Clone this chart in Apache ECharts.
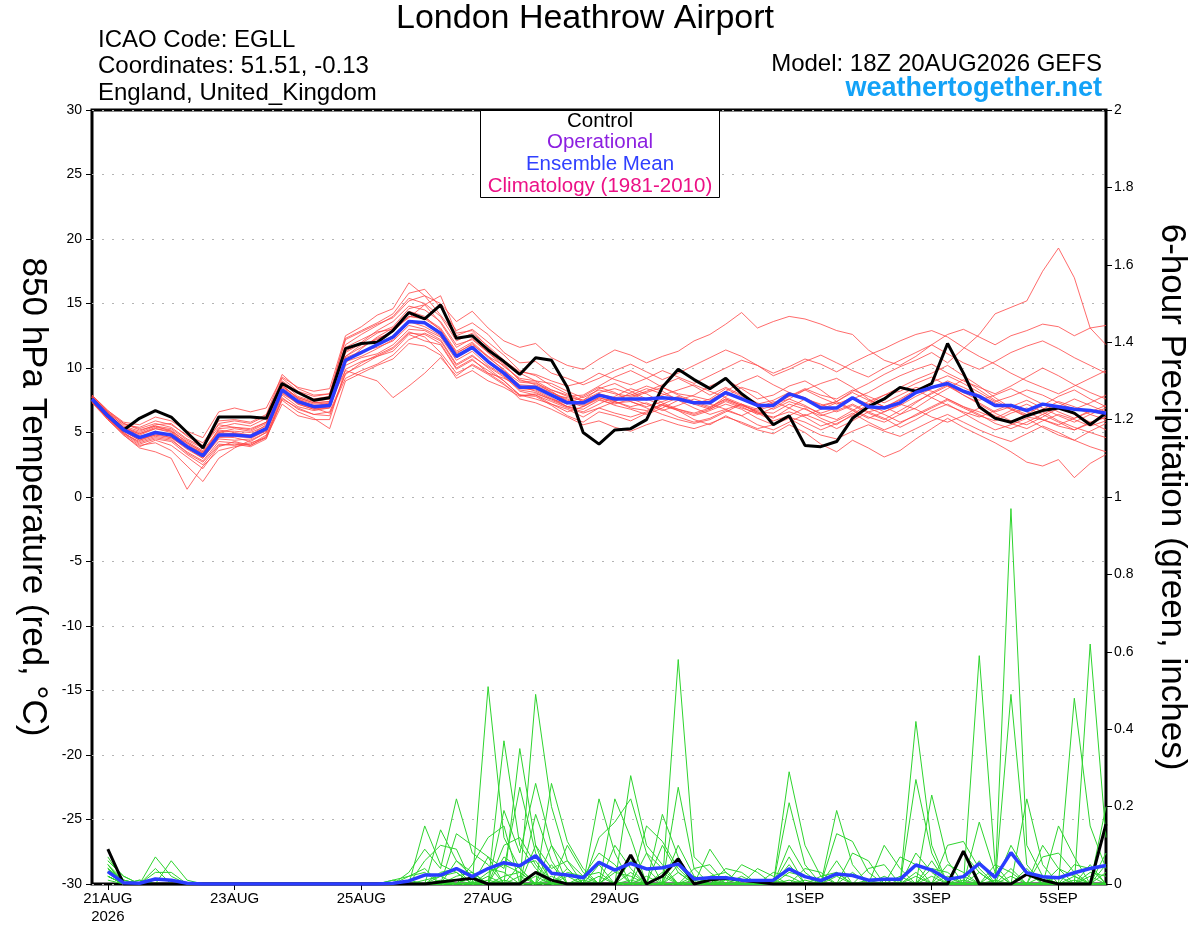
<!DOCTYPE html>
<html>
<head>
<meta charset="utf-8">
<title>London Heathrow Airport</title>
<script src="https://cdn.jsdelivr.net/npm/echarts@6/dist/echarts.min.js"></script>
<style>
  html, body { margin: 0; padding: 0; background: #fff; }
  #chart { width: 1200px; height: 927px; }
</style>
</head>
<body>
<div id="chart"></div>
<script>
// 6-hourly steps from the 18Z 20AUG2026 GEFS run
const runStart = Date.UTC(2026, 7, 20, 18);
const stepCount = 65;
const monthNames = ['JAN', 'FEB', 'MAR', 'APR', 'MAY', 'JUN', 'JUL', 'AUG', 'SEP', 'OCT', 'NOV', 'DEC'];
const tickDays = ['21AUG', '23AUG', '25AUG', '27AUG', '29AUG', '1SEP', '3SEP', '5SEP'];
const firstTickYear = '2026';

const times = [];
for (let k = 0; k < stepCount; k++) {
    const d = new Date(runStart + k * 6 * 3600 * 1000);
    const hh = String(d.getUTCHours()).padStart(2, '0');
    times.push(d.getUTCDate() + monthNames[d.getUTCMonth()] + ' ' + hh + 'Z');
}

// 850 hPa temperature (C)
const ctlTemp = [
    7.6, 6.3, 5.2, 6.1, 6.7, 6.2, 5.0, 3.8, 6.2, 6.2, 6.2, 6.1, 8.8,
    8.1, 7.5, 7.7, 11.5, 11.9, 12.0, 12.9, 14.3, 13.8, 14.9, 12.3, 12.5, 11.4,
    10.5, 9.5, 10.8, 10.6, 8.5, 5.0, 4.1, 5.2, 5.3, 6.0, 8.5, 9.9, 9.1,
    8.4, 9.2, 8.0, 7.1, 5.6, 6.3, 4.0, 3.9, 4.3, 6.1, 7.0, 7.6, 8.5,
    8.2, 8.8, 11.9, 9.6, 7.0, 6.1, 5.8, 6.3, 6.7, 6.9, 6.5, 5.6, 6.5
];
const meanTemp = [
    7.6, 6.3, 5.2, 4.6, 5.0, 4.8, 3.9, 3.2, 4.8, 4.8, 4.7, 5.3, 8.3,
    7.4, 7.0, 7.1, 10.6, 11.2, 11.8, 12.4, 13.6, 13.5, 12.7, 10.9, 11.6, 10.5,
    9.6, 8.5, 8.5, 7.9, 7.3, 7.3, 7.9, 7.6, 7.6, 7.6, 7.7, 7.6, 7.3,
    7.3, 8.1, 7.6, 7.1, 7.1, 8.0, 7.6, 6.9, 6.9, 7.7, 7.0, 6.9, 7.3,
    8.1, 8.5, 8.8, 8.2, 7.8, 7.1, 7.1, 6.7, 7.2, 7.0, 6.8, 6.7, 6.5
];
const tempMembers = [
    [7.8, 6.5, 5.6, 5.4, 5.9, 5.6, 4.8, 4.2, 5.9, 6.0, 5.8, 6.4, 9.5,
     8.4, 7.9, 8.0, 12.2, 12.8, 13.4, 13.9, 15.2, 15.6, 14.1, 12.5, 13.0, 12.0,
     11.0, 9.8, 9.4, 8.6, 8.0, 7.5, 8.4, 8.8, 8.2, 7.6, 7.1, 6.8, 6.5,
     6.9, 7.8, 8.5, 8.1, 7.2, 7.6, 8.3, 8.8, 9.2, 8.5, 7.6, 7.0, 6.4,
     6.9, 7.7, 8.4, 9.1, 8.3, 7.5, 6.8, 6.2, 6.0, 5.5, 5.2, 5.8, 6.2],
    [7.4, 6.0, 4.8, 3.8, 3.5, 3.0, 0.6, 2.4, 3.6, 3.9, 4.1, 4.8, 7.6,
     6.9, 6.4, 6.6, 9.5, 10.4, 11.0, 11.6, 12.8, 12.4, 11.2, 9.6, 10.2, 9.5,
     8.7, 7.9, 7.6, 7.2, 6.8, 6.2, 6.9, 7.4, 8.1, 8.6, 8.2, 7.5, 6.9,
     6.4, 6.8, 7.2, 6.5, 5.9, 6.3, 6.9, 6.1, 5.6, 6.4, 7.2, 7.9, 8.5,
     9.1, 9.6, 10.2, 9.4, 8.6, 7.7, 6.9, 6.4, 7.1, 7.8, 8.3, 7.6, 7.0],
    [7.7, 6.4, 5.3, 4.9, 5.3, 5.0, 4.1, 3.4, 5.0, 5.3, 5.1, 5.7, 8.6,
     7.7, 7.3, 7.4, 11.2, 11.9, 12.7, 13.2, 14.6, 14.9, 13.5, 11.6, 12.3, 11.2,
     10.1, 9.2, 9.0, 8.3, 7.8, 7.9, 8.6, 9.3, 9.8, 9.2, 8.5, 8.0, 7.8,
     7.5, 8.2, 8.9, 9.4, 8.7, 8.1, 7.6, 7.0, 7.4, 8.2, 8.8, 9.5, 10.1,
     10.6, 11.2, 10.4, 11.5, 12.6, 14.2, 14.7, 15.2, 17.5, 19.3, 17.0, 13.1, 11.8],
    [7.9, 6.7, 5.8, 5.6, 6.2, 5.9, 5.1, 4.6, 6.6, 6.9, 6.6, 6.9, 9.3,
     8.5, 8.2, 8.4, 12.5, 13.2, 14.1, 14.6, 16.6, 15.6, 15.0, 13.6, 14.4, 13.1,
     12.1, 11.6, 11.9, 10.8, 10.2, 9.9, 10.7, 11.4, 11.0, 10.4, 10.9, 11.3, 12.1,
     12.6, 13.4, 14.3, 13.1, 13.6, 14.0, 13.8, 13.4, 12.9, 12.6, 11.4, 10.6, 10.2,
     10.9, 11.8, 12.6, 13.0, 12.4, 11.8, 12.5, 12.9, 13.4, 13.2, 12.5, 13.1, 13.3],
    [7.5, 6.1, 5.0, 4.2, 4.6, 4.4, 3.5, 2.8, 4.3, 4.2, 4.0, 4.7, 7.9,
     7.0, 6.7, 6.9, 10.2, 10.8, 11.1, 11.8, 13.0, 12.9, 12.2, 10.3, 11.0, 10.0,
     9.0, 7.9, 7.8, 7.1, 6.3, 5.8, 6.6, 6.3, 5.9, 6.5, 7.1, 6.7, 6.0,
     5.6, 6.3, 5.7, 5.2, 4.9, 5.6, 5.0, 4.1, 3.5, 4.4, 3.8, 3.1, 3.6,
     4.5, 5.3, 6.1, 5.4, 4.8, 4.2, 3.5, 2.7, 2.4, 2.9, 1.5, 2.6, 3.3],
    [7.6, 6.2, 5.1, 4.4, 4.8, 4.9, 4.2, 3.5, 4.7, 4.6, 4.3, 5.0, 8.1,
     7.2, 6.8, 6.9, 10.4, 11.5, 12.4, 13.1, 14.4, 14.0, 12.9, 11.2, 11.8, 10.9,
     10.2, 9.1, 8.7, 8.2, 7.4, 7.0, 7.6, 7.1, 6.8, 6.4, 6.9, 7.5, 7.9,
     8.6, 9.1, 8.4, 7.6, 7.9, 8.6, 9.0, 8.3, 7.4, 6.8, 6.2, 5.8, 6.4,
     7.3, 8.1, 8.7, 7.9, 7.2, 6.5, 5.9, 5.6, 6.2, 6.9, 6.4, 5.8, 5.2],
    [7.3, 6.0, 4.9, 4.0, 4.2, 3.6, 2.4, 1.2, 3.0, 3.8, 4.4, 5.0, 8.0,
     7.3, 6.9, 6.5, 9.2, 9.8, 10.3, 11.0, 12.2, 12.7, 12.1, 10.2, 10.9, 10.1,
     9.3, 8.3, 8.1, 7.5, 7.0, 7.3, 8.0, 7.4, 7.0, 7.3, 6.8, 6.2, 5.8,
     6.1, 6.7, 6.3, 5.6, 5.2, 5.8, 6.4, 5.9, 5.3, 5.9, 6.6, 6.1, 5.4,
     6.0, 6.7, 7.2, 6.5, 5.8, 5.2, 5.6, 6.1, 5.4, 4.8, 4.4, 5.1, 5.7],
    [7.4, 6.1, 4.9, 4.3, 4.7, 4.5, 3.4, 2.7, 4.1, 4.0, 4.2, 4.6, 7.5,
     6.6, 6.1, 5.3, 9.0, 9.6, 10.2, 10.7, 11.9, 11.7, 11.0, 9.2, 9.8, 9.0,
     8.5, 7.8, 8.0, 7.6, 7.0, 6.6, 7.2, 7.8, 8.4, 8.0, 7.3, 6.8, 6.4,
     6.8, 7.5, 7.0, 6.4, 6.9, 7.6, 7.1, 6.4, 6.0, 6.7, 7.4, 7.9, 8.2,
     8.8, 9.3, 8.6, 7.9, 7.3, 6.6, 7.0, 7.5, 6.9, 6.3, 5.8, 6.4, 6.9],
    [7.7, 6.4, 5.3, 4.8, 5.3, 5.1, 4.3, 3.6, 5.2, 5.0, 4.8, 5.6, 8.7,
     7.6, 7.0, 7.3, 9.8, 9.4, 9.0, 7.7, 8.6, 9.6, 10.8, 9.4, 10.3, 9.6,
     9.2, 8.6, 8.4, 7.9, 7.7, 7.5, 8.1, 8.4, 8.0, 7.5, 7.9, 8.3, 8.7,
     8.2, 7.7, 7.2, 6.8, 7.3, 7.8, 8.4, 7.9, 7.6, 8.3, 7.8, 7.3, 7.9,
     8.5, 8.2, 7.6, 7.0, 6.4, 5.7, 5.3, 5.8, 6.4, 7.0, 7.6, 7.1, 6.6],
    [7.8, 6.6, 5.5, 5.1, 5.6, 5.7, 4.7, 4.0, 5.6, 5.4, 5.3, 5.8, 8.9,
     7.8, 7.4, 7.6, 11.6, 12.2, 12.8, 13.0, 13.9, 14.9, 15.6, 12.7, 12.9, 11.6,
     10.4, 9.6, 9.0, 8.8, 8.2, 7.7, 8.3, 8.0, 7.8, 8.2, 8.7, 9.2, 8.6,
     7.9, 8.5, 7.9, 7.3, 6.8, 7.4, 7.0, 6.5, 6.9, 7.6, 8.1, 8.8, 9.4,
     9.9, 10.3, 9.6, 9.0, 8.5, 8.0, 8.6, 9.3, 10.0, 9.4, 8.7, 8.1, 7.6],
    [7.5, 6.2, 5.1, 4.4, 4.9, 4.6, 3.7, 3.0, 4.6, 4.7, 4.6, 5.1, 8.2,
     7.3, 6.9, 7.0, 10.8, 11.3, 11.6, 12.1, 13.3, 13.0, 12.4, 10.6, 11.3, 10.2,
     9.4, 8.2, 7.9, 7.4, 6.9, 6.5, 6.9, 6.5, 6.2, 6.6, 7.2, 7.7, 7.2,
     6.8, 7.4, 6.9, 6.5, 6.2, 6.6, 6.2, 5.5, 5.9, 6.5, 5.8, 5.2, 5.7,
     6.4, 7.0, 7.6, 7.0, 6.6, 6.1, 6.7, 7.2, 6.6, 5.9, 5.4, 5.0, 4.6],
    [7.6, 6.3, 5.2, 4.6, 5.1, 4.7, 3.8, 3.1, 4.9, 4.9, 4.8, 5.4, 8.4,
     7.5, 7.1, 7.2, 10.9, 11.6, 12.3, 12.8, 14.0, 13.8, 13.0, 11.1, 11.9, 10.8,
     9.9, 8.6, 8.2, 7.6, 7.2, 7.8, 8.5, 8.1, 7.4, 6.9, 6.4, 6.0, 5.7,
     6.0, 6.6, 7.2, 6.6, 6.1, 6.9, 7.6, 7.2, 6.6, 7.1, 6.5, 6.0, 6.7,
     7.4, 8.0, 8.6, 8.1, 7.5, 7.9, 8.4, 7.8, 7.2, 6.6, 6.1, 6.6, 7.1],
    [7.9, 6.6, 5.7, 5.3, 5.7, 5.4, 4.5, 3.9, 5.4, 5.7, 5.5, 6.1, 9.0,
     8.1, 7.6, 7.8, 11.8, 12.6, 13.3, 14.0, 15.4, 15.0, 14.0, 12.1, 12.7, 11.7,
     10.6, 9.7, 9.5, 9.0, 8.6, 8.9, 9.6, 9.1, 8.7, 9.2, 9.8, 9.3, 8.8,
     9.4, 10.0, 10.6, 10.2, 9.6, 10.1, 10.7, 10.3, 9.7, 10.4, 11.0, 11.5, 12.1,
     12.6, 12.9, 12.4, 11.6, 10.9, 10.3, 9.6, 9.0, 8.5, 8.0, 8.6, 9.2, 9.8],
    [7.5, 6.1, 5.0, 4.1, 4.5, 4.3, 3.3, 2.5, 4.0, 4.1, 3.9, 4.5, 7.7,
     6.8, 6.4, 6.3, 9.6, 10.2, 10.9, 11.5, 12.7, 12.6, 11.9, 10.0, 10.7, 9.6,
     8.8, 7.6, 7.3, 6.8, 6.2, 5.6, 5.9, 5.4, 5.1, 5.6, 6.0, 5.6, 5.3,
     5.7, 6.2, 5.8, 5.3, 5.6, 6.1, 5.4, 4.8, 4.5, 5.1, 5.6, 5.1, 4.7,
     5.3, 5.9, 6.4, 5.8, 5.2, 4.7, 4.3, 4.9, 5.5, 5.0, 4.4, 3.9, 3.5],
    [7.7, 6.4, 5.4, 4.9, 5.4, 5.2, 4.2, 3.5, 5.1, 5.1, 5.0, 5.5, 8.5,
     7.6, 7.2, 7.3, 10.9, 11.8, 12.2, 12.9, 14.0, 13.9, 13.1, 11.3, 12.0, 10.9,
     9.8, 8.9, 8.8, 8.3, 7.9, 7.4, 8.0, 7.7, 7.9, 8.4, 8.0, 7.6, 7.2,
     7.6, 8.4, 7.8, 7.2, 7.5, 8.1, 7.7, 7.1, 7.4, 8.1, 7.5, 7.0, 7.5,
     8.2, 8.9, 9.4, 8.8, 8.1, 7.4, 7.8, 8.3, 7.9, 7.3, 6.8, 7.3, 7.9],
    [7.6, 6.2, 5.2, 4.5, 4.8, 4.6, 3.8, 3.0, 4.5, 4.4, 4.5, 5.2, 8.2,
     7.2, 6.8, 7.0, 10.5, 10.9, 11.5, 12.2, 13.5, 13.6, 12.8, 10.9, 11.6, 10.4,
     9.5, 8.4, 8.3, 7.7, 7.0, 6.8, 7.5, 7.2, 7.6, 7.2, 6.7, 7.1, 7.6,
     7.2, 6.8, 6.3, 6.9, 7.4, 6.9, 6.3, 6.8, 7.3, 6.7, 6.1, 6.6, 7.2,
     6.8, 6.2, 5.8, 6.3, 6.9, 6.3, 5.7, 5.3, 5.9, 6.4, 6.0, 5.5, 5.9],
    [7.8, 6.5, 5.4, 5.0, 5.5, 5.1, 4.0, 3.3, 5.3, 5.4, 5.2, 5.8, 8.6,
     7.7, 7.3, 7.4, 11.3, 12.0, 12.9, 13.6, 14.8, 14.5, 13.6, 11.8, 12.2, 11.2,
     10.3, 9.0, 8.9, 8.1, 7.5, 7.2, 7.9, 7.5, 7.7, 8.1, 8.5, 7.9, 7.4,
     7.0, 7.6, 7.1, 6.7, 7.1, 7.8, 8.3, 7.7, 7.2, 7.7, 7.2, 6.6, 7.1,
     7.8, 8.4, 9.0, 8.5, 7.9, 7.3, 6.8, 6.3, 6.8, 7.4, 7.0, 6.4, 6.0],
    [7.4, 6.0, 4.8, 3.9, 4.4, 4.0, 3.1, 2.2, 3.9, 4.3, 4.0, 4.6, 7.2,
     6.3, 6.0, 6.0, 9.9, 10.5, 10.9, 11.3, 12.6, 12.1, 11.8, 9.9, 10.6, 9.8,
     9.0, 7.9, 7.9, 7.2, 6.6, 7.0, 7.7, 7.4, 6.9, 6.7, 7.2, 6.7, 6.3,
     6.7, 7.2, 6.8, 6.1, 5.6, 6.2, 5.8, 5.2, 5.7, 6.3, 6.9, 6.4, 5.8,
     6.3, 6.9, 7.5, 6.9, 6.3, 5.9, 6.5, 6.9, 6.4, 5.8, 5.2, 5.7, 6.2],
    [7.7, 6.4, 5.3, 4.7, 5.0, 4.8, 4.0, 3.4, 5.0, 4.9, 4.7, 5.3, 8.3,
     7.4, 7.0, 7.1, 10.7, 11.1, 11.9, 12.5, 13.6, 13.2, 12.5, 10.8, 11.5, 10.6,
     9.7, 8.7, 8.6, 8.1, 7.6, 7.1, 7.7, 7.3, 7.4, 7.0, 7.4, 7.8, 7.3,
     6.9, 7.6, 7.1, 6.6, 6.5, 7.2, 6.8, 6.3, 6.7, 7.2, 6.6, 6.9, 7.6,
     8.3, 7.7, 7.1, 6.6, 6.2, 6.7, 7.2, 6.6, 6.0, 5.6, 6.1, 6.7, 6.3],
    [7.9, 6.7, 5.7, 5.2, 5.5, 5.3, 4.4, 3.8, 5.7, 5.9, 5.7, 6.3, 9.2,
     8.2, 7.8, 8.0, 12.3, 12.9, 13.5, 14.2, 15.8, 16.1, 14.7, 12.9, 13.5, 12.6,
     11.2, 10.4, 10.5, 9.6, 9.2, 8.7, 9.2, 9.8, 10.3, 9.7, 9.1, 9.6, 10.2,
     10.8, 11.4, 10.9, 10.2, 9.4, 9.9, 10.5, 11.0, 10.4, 9.8, 9.3, 10.0, 10.6,
     11.2, 11.8, 11.1, 10.4, 9.9, 10.5, 11.2, 11.7, 12.1, 11.5, 10.8, 10.2, 9.6]
];

// 6-hour precipitation (inches), no value at the analysis time
const ctlPrecip = [
    null, 0.09, 0, 0, 0, 0, 0, 0, 0, 0, 0, 0, 0,
    0, 0, 0, 0, 0, 0, 0, 0, 0, 0.005, 0.01, 0.015, 0,
    0, 0, 0.03, 0.01, 0, 0, 0, 0, 0.075, 0, 0.02, 0.065, 0,
    0.01, 0.015, 0.01, 0.005, 0, 0, 0, 0, 0, 0, 0, 0, 0,
    0, 0, 0, 0.085, 0, 0, 0, 0.025, 0.01, 0, 0, 0, 0.155
];
const meanPrecip = [
    null, 0.032, 0.003, 0.002, 0.013, 0.01, 0.002, 0, 0, 0, 0, 0, 0,
    0, 0, 0, 0, 0, 0, 0.002, 0.008, 0.023, 0.023, 0.04, 0.019, 0.04,
    0.055, 0.047, 0.073, 0.028, 0.023, 0.016, 0.056, 0.036, 0.053, 0.039, 0.042, 0.052, 0.013,
    0.016, 0.016, 0.01, 0.009, 0.01, 0.039, 0.019, 0.009, 0.026, 0.022, 0.01, 0.012, 0.012,
    0.049, 0.036, 0.012, 0.019, 0.053, 0.017, 0.081, 0.029, 0.019, 0.016, 0.029, 0.04, 0.048
];
const precipMembers = [
    [null, 0.04, 0.01, 0, 0.07, 0.02, 0, 0, 0, 0, 0, 0, 0,
     0, 0, 0, 0, 0, 0, 0, 0, 0.15, 0.05, 0.03, 0, 0.51,
     0.12, 0.04, 0, 0, 0, 0, 0.05, 0, 0, 0, 0, 0.1, 0.02,
     0, 0, 0, 0, 0, 0.05, 0, 0, 0, 0, 0, 0, 0,
     0.08, 0.03, 0, 0, 0, 0, 0.97, 0.1, 0.02, 0, 0, 0.05, 0],
    [null, 0.03, 0, 0, 0, 0.06, 0.01, 0, 0, 0, 0, 0, 0,
     0, 0, 0, 0, 0, 0, 0, 0, 0, 0.14, 0.06, 0.02, 0,
     0.37, 0.1, 0.04, 0, 0, 0, 0, 0.1, 0.04, 0, 0, 0, 0,
     0, 0, 0, 0, 0, 0.29, 0.1, 0.02, 0, 0, 0, 0, 0,
     0, 0, 0, 0, 0.06, 0, 0, 0, 0, 0, 0.48, 0.15, 0.04],
    [null, 0.05, 0, 0, 0.04, 0, 0, 0, 0, 0, 0, 0, 0,
     0, 0, 0, 0, 0, 0, 0, 0.03, 0.09, 0.04, 0.22, 0.08, 0.05,
     0, 0, 0.49, 0.2, 0.06, 0, 0, 0, 0, 0, 0, 0.58, 0.07,
     0.03, 0, 0, 0, 0, 0, 0, 0, 0.19, 0.05, 0, 0, 0,
     0, 0, 0, 0, 0.59, 0.05, 0, 0, 0, 0, 0, 0.62, 0.12],
    [null, 0.02, 0, 0.01, 0, 0, 0, 0, 0, 0, 0, 0, 0,
     0, 0, 0, 0, 0, 0, 0, 0, 0, 0, 0.13, 0.1, 0.07,
     0, 0.35, 0.1, 0, 0, 0, 0, 0, 0.28, 0.1, 0.05, 0, 0,
     0, 0, 0, 0, 0, 0.21, 0.05, 0, 0, 0, 0, 0, 0,
     0.42, 0.1, 0, 0, 0, 0, 0.49, 0.05, 0, 0, 0, 0, 0],
    [null, 0.06, 0.02, 0, 0, 0, 0, 0, 0, 0, 0, 0, 0,
     0, 0, 0, 0, 0, 0, 0, 0, 0, 0, 0, 0, 0,
     0.19, 0.08, 0.26, 0.1, 0, 0, 0.22, 0.08, 0, 0, 0, 0.25, 0.04,
     0, 0, 0, 0, 0, 0, 0, 0, 0.13, 0.11, 0.03, 0, 0,
     0, 0.23, 0.06, 0, 0, 0, 0, 0.22, 0.05, 0, 0, 0, 0.2],
    [null, 0.03, 0, 0, 0.03, 0.03, 0, 0, 0, 0, 0, 0, 0,
     0, 0, 0, 0, 0, 0, 0, 0, 0.06, 0.1, 0.09, 0, 0,
     0, 0, 0, 0.26, 0.11, 0.04, 0, 0, 0, 0, 0.18, 0.07, 0,
     0, 0, 0, 0, 0, 0.1, 0.03, 0, 0, 0, 0, 0, 0,
     0.27, 0.08, 0, 0, 0, 0, 0, 0, 0, 0.15, 0.07, 0, 0],
    [null, 0.02, 0, 0, 0, 0, 0, 0, 0, 0, 0, 0, 0,
     0, 0, 0, 0, 0, 0, 0, 0.02, 0.04, 0, 0, 0.05, 0.12,
     0.15, 0, 0.18, 0.06, 0, 0, 0, 0.22, 0.12, 0, 0, 0, 0,
     0, 0.04, 0.03, 0, 0, 0, 0, 0, 0, 0, 0, 0.1, 0.04,
     0, 0, 0, 0, 0.16, 0.03, 0, 0, 0.1, 0.04, 0, 0, 0],
    [null, 0.07, 0.01, 0, 0, 0, 0, 0, 0, 0, 0, 0, 0,
     0, 0, 0, 0, 0, 0, 0, 0, 0, 0, 0.06, 0.03, 0,
     0.1, 0.12, 0.05, 0, 0.1, 0.03, 0, 0, 0, 0.15, 0.11, 0.04, 0,
     0, 0, 0, 0, 0, 0.07, 0, 0, 0.06, 0, 0, 0, 0,
     0, 0, 0.1, 0.11, 0.04, 0, 0, 0, 0, 0, 0, 0, 0.05],
    [null, 0.04, 0, 0.01, 0, 0, 0, 0, 0, 0, 0, 0, 0,
     0, 0, 0, 0, 0, 0, 0, 0, 0, 0.03, 0.04, 0, 0.07,
     0.04, 0.25, 0.08, 0, 0, 0, 0.12, 0.16, 0.22, 0.08, 0, 0, 0,
     0.09, 0.03, 0, 0, 0, 0, 0, 0, 0, 0.08, 0.06, 0, 0,
     0, 0, 0, 0.08, 0.03, 0, 0.1, 0.03, 0, 0, 0, 0, 0],
    [null, 0.05, 0, 0, 0, 0, 0, 0, 0, 0, 0, 0, 0,
     0, 0, 0, 0, 0, 0, 0.01, 0.02, 0.03, 0, 0, 0, 0,
     0, 0, 0.1, 0.04, 0.06, 0.02, 0.08, 0.05, 0, 0, 0.1, 0.03, 0,
     0, 0, 0, 0.04, 0.02, 0, 0, 0, 0, 0, 0, 0, 0.07,
     0.05, 0, 0, 0, 0, 0, 0, 0, 0.07, 0.08, 0.03, 0, 0],
    [null, 0.03, 0, 0, 0, 0, 0, 0, 0, 0, 0, 0, 0,
     0, 0, 0, 0, 0, 0, 0, 0, 0, 0.02, 0.03, 0, 0.03,
     0.05, 0.03, 0, 0.1, 0.04, 0, 0, 0, 0, 0.08, 0.04, 0, 0,
     0, 0, 0.05, 0.03, 0, 0, 0.04, 0.03, 0, 0, 0, 0, 0,
     0, 0.06, 0, 0, 0, 0.05, 0.03, 0, 0, 0, 0, 0, 0.08],
    [null, 0.06, 0.02, 0, 0, 0, 0, 0, 0, 0, 0, 0, 0,
     0, 0, 0, 0, 0, 0, 0, 0, 0, 0, 0, 0.02, 0.04,
     0.03, 0, 0, 0, 0.03, 0.02, 0, 0, 0.06, 0.04, 0, 0, 0.04,
     0.05, 0, 0, 0, 0.03, 0.02, 0, 0, 0, 0, 0.04, 0.05, 0,
     0, 0, 0.05, 0.03, 0, 0, 0, 0, 0, 0, 0.05, 0.04, 0],
    [null, 0.02, 0, 0, 0, 0, 0, 0, 0, 0, 0, 0, 0,
     0, 0, 0, 0, 0, 0, 0, 0, 0.01, 0.02, 0, 0, 0,
     0.07, 0.04, 0, 0.05, 0, 0, 0, 0.04, 0, 0, 0, 0.05, 0,
     0, 0.02, 0, 0, 0, 0, 0, 0, 0.03, 0, 0, 0, 0,
     0.03, 0, 0, 0, 0, 0.03, 0, 0, 0, 0.04, 0.02, 0, 0],
    [null, 0.04, 0, 0, 0, 0, 0, 0, 0, 0, 0, 0, 0,
     0, 0, 0, 0, 0, 0, 0, 0, 0, 0, 0.02, 0.03, 0,
     0, 0.05, 0.06, 0, 0, 0.02, 0.03, 0, 0, 0, 0.03, 0, 0,
     0.02, 0.03, 0, 0, 0, 0, 0, 0.02, 0.03, 0, 0, 0, 0,
     0, 0.04, 0.03, 0, 0, 0, 0, 0.04, 0, 0, 0, 0.03, 0.02],
    [null, 0.03, 0, 0, 0, 0, 0, 0, 0, 0, 0, 0, 0,
     0, 0, 0, 0, 0, 0, 0.01, 0, 0, 0, 0, 0, 0.02,
     0, 0, 0.03, 0, 0.04, 0, 0, 0, 0.03, 0, 0, 0, 0.02,
     0, 0, 0, 0, 0, 0.03, 0.02, 0, 0, 0, 0, 0, 0.02,
     0, 0, 0, 0.02, 0, 0, 0.04, 0, 0, 0, 0.02, 0, 0],
    [null, 0.05, 0.01, 0, 0, 0, 0, 0, 0, 0, 0, 0, 0,
     0, 0, 0, 0, 0, 0, 0, 0, 0, 0.01, 0, 0, 0,
     0.02, 0.03, 0, 0.02, 0, 0, 0, 0.03, 0.02, 0, 0, 0.03, 0,
     0, 0, 0.02, 0, 0, 0, 0, 0, 0, 0.03, 0, 0, 0,
     0.02, 0, 0, 0, 0.03, 0, 0, 0, 0.02, 0, 0, 0, 0.03],
    [null, 0.02, 0, 0, 0, 0, 0, 0, 0, 0, 0, 0, 0,
     0, 0, 0, 0, 0, 0, 0, 0.01, 0, 0, 0, 0.02, 0,
     0, 0, 0.02, 0, 0, 0, 0.02, 0, 0, 0.02, 0, 0, 0,
     0.01, 0, 0, 0, 0.01, 0, 0, 0, 0.02, 0, 0, 0, 0,
     0, 0.02, 0, 0, 0, 0, 0.02, 0, 0, 0, 0, 0.02, 0],
    [null, 0.03, 0, 0, 0, 0, 0, 0, 0, 0, 0, 0, 0,
     0, 0, 0, 0, 0, 0, 0, 0, 0, 0, 0.01, 0, 0,
     0, 0.02, 0, 0, 0.02, 0, 0, 0, 0, 0, 0.02, 0, 0,
     0, 0, 0, 0, 0, 0.01, 0, 0, 0, 0, 0, 0.02, 0,
     0, 0, 0.02, 0, 0, 0, 0, 0, 0, 0.02, 0, 0, 0],
    [null, 0.04, 0, 0, 0, 0, 0, 0, 0, 0, 0, 0, 0,
     0, 0, 0, 0, 0, 0, 0, 0, 0, 0, 0, 0, 0.01,
     0, 0, 0, 0.01, 0, 0, 0, 0, 0.01, 0, 0, 0, 0,
     0, 0.01, 0, 0, 0, 0, 0, 0, 0, 0, 0.01, 0, 0,
     0, 0, 0, 0.01, 0, 0, 0, 0, 0, 0, 0.01, 0, 0],
    [null, 0.01, 0, 0, 0, 0, 0, 0, 0, 0, 0, 0, 0,
     0, 0, 0, 0, 0, 0, 0, 0, 0, 0, 0, 0, 0,
     0.01, 0, 0, 0, 0, 0.01, 0, 0, 0, 0, 0, 0, 0.01,
     0, 0, 0, 0, 0, 0, 0.01, 0, 0, 0, 0, 0, 0,
     0, 0, 0, 0, 0, 0.01, 0, 0, 0, 0, 0, 0, 0]
];

const baseFont = 'Liberation Sans, Arial, Helvetica, sans-serif';

function lineSeries(name, data, axis, color, width, z) {
    return {
        name: name,
        type: 'line',
        yAxisIndex: axis,
        data: data,
        symbol: 'none',
        smooth: false,
        silent: true,
        z: z,
        emphasis: { disabled: true },
        lineStyle: { color: color, width: width }
    };
}

const series = [];
tempMembers.forEach((d, k) => series.push(lineSeries('T' + (k + 1), d, 0, 'rgba(255,70,70,0.8)', 1, 2)));
precipMembers.forEach((d, k) => series.push(lineSeries('P' + (k + 1), d, 1, '#2ed42e', 1, 2)));
series.push(lineSeries('Control T', ctlTemp, 0, '#000000', 3, 4));
series.push(lineSeries('Control P', ctlPrecip, 1, '#000000', 3, 4));
series.push(lineSeries('Ensemble Mean T', meanTemp, 0, '#2a3cff', 3.5, 5));
series.push(lineSeries('Ensemble Mean P', meanPrecip, 1, '#2a3cff', 3.5, 5));

function isTickDay(index, value) {
    const parts = value.split(' ');
    return parts[1] === '00Z' && tickDays.indexOf(parts[0]) >= 0;
}

const headerText = (x, y, text, opts) => ({
    type: 'text',
    x: x,
    y: y,
    z: 100,
    silent: true,
    style: Object.assign({
        text: text,
        fontFamily: baseFont,
        fontSize: 24,
        fill: '#000',
        align: 'left',
        verticalAlign: 'middle'
    }, opts || {})
});

const chart = echarts.init(document.getElementById('chart'), null, { renderer: 'canvas' });
chart.setOption({
    animation: false,
    backgroundColor: '#ffffff',
    textStyle: { fontFamily: baseFont },
    grid: {
        left: 92, right: 94, top: 110, bottom: 43,
        outerBoundsMode: 'none',
        containLabel: false,
        show: true, borderColor: '#000', borderWidth: 3, backgroundColor: 'transparent'
    },
    xAxis: {
        type: 'category',
        data: times,
        boundaryGap: false,
        axisLine: { show: false, onZero: false },
        axisTick: { show: true, interval: isTickDay, length: 6, lineStyle: { color: '#000', width: 1 } },
        axisLabel: {
            interval: isTickDay,
            margin: 6,
            color: '#000',
            fontSize: 15,
            lineHeight: 18,
            formatter: v => {
                const day = v.split(' ')[0];
                return day === tickDays[0] ? day + '\n' + firstTickYear : day;
            }
        },
        splitLine: { show: false }
    },
    yAxis: [{
        type: 'value',
        min: -30, max: 30, interval: 5,
        position: 'left',
        name: '850 hPa Temperature (red, \u00B0C)',
        nameLocation: 'middle',
        nameRotate: -90,
        nameGap: 42,
        nameTextStyle: { fontSize: 35, color: '#000' },
        axisLine: { show: false },
        axisTick: { show: true, length: 6, lineStyle: { color: '#000', width: 1 } },
        axisLabel: { color: '#000', fontSize: 14, margin: 10 },
        splitLine: { show: true, lineStyle: { color: '#b4b4b4', width: 1, type: [2, 8] } }
    }, {
        type: 'value',
        min: 0, max: 2, interval: 0.2,
        position: 'right',
        name: '6-hour Precipitation (green, inches)',
        nameLocation: 'middle',
        nameRotate: -90,
        nameGap: 48,
        nameTextStyle: { fontSize: 35, color: '#000' },
        axisLine: { show: false },
        axisTick: { show: true, length: 6, lineStyle: { color: '#000', width: 1 } },
        axisLabel: { color: '#000', fontSize: 14, margin: 8 },
        splitLine: { show: false }
    }],
    series: series,
    graphic: [
        headerText(585, 19, 'London Heathrow Airport', { fontSize: 34, align: 'center' }),
        headerText(98, 40, 'ICAO Code: EGLL'),
        headerText(98, 66, 'Coordinates: 51.51, -0.13'),
        headerText(98, 93, 'England, United_Kingdom'),
        headerText(1102, 64, 'Model: 18Z 20AUG2026 GEFS', { align: 'right' }),
        headerText(1102, 89, 'weathertogether.net', { align: 'right', fontSize: 27, fontWeight: 'bold', fill: '#13a2f7' }),
        {
            type: 'rect', z: 99, silent: true,
            shape: { x: 480.5, y: 110.5, width: 239, height: 87 },
            style: { fill: '#fff', stroke: '#000', lineWidth: 1 }
        },
        headerText(600, 121, 'Control', { fontSize: 20.5, align: 'center' }),
        headerText(600, 142, 'Operational', { fontSize: 20.5, align: 'center', fill: '#8c1fe0' }),
        headerText(600, 164, 'Ensemble Mean', { fontSize: 20.5, align: 'center', fill: '#3040ff' }),
        headerText(600, 186, 'Climatology (1981-2010)', { fontSize: 20.5, align: 'center', fill: '#ec1186' })
    ]
});
window.addEventListener('resize', () => chart.resize());
</script>
</body>
</html>
